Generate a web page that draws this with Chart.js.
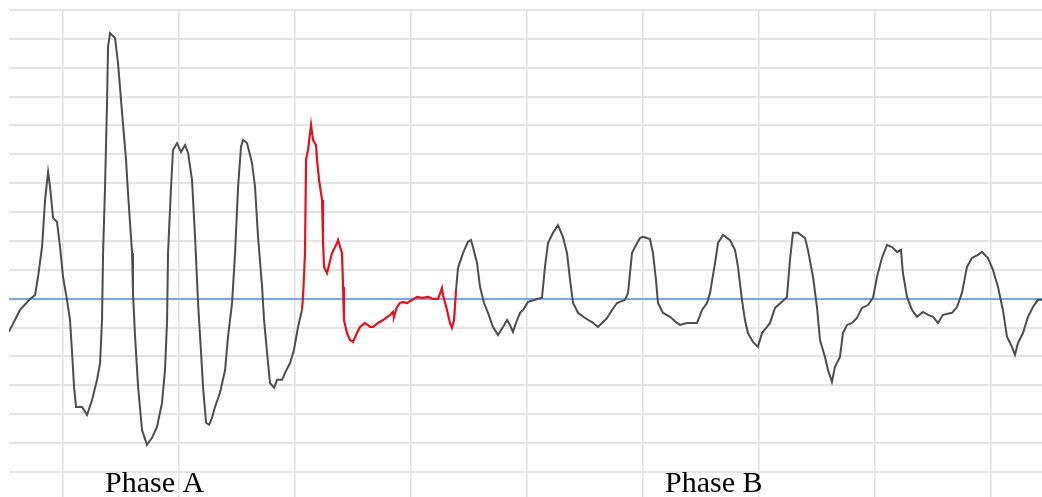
<!DOCTYPE html>
<html>
<head>
<meta charset="utf-8">
<script src="https://cdn.jsdelivr.net/npm/chart.js@4/dist/chart.umd.min.js"></script>
<style>
  html, body { margin: 0; padding: 0; background: #fff; }
  #wrap { width: 1042px; height: 497px; position: relative; }
</style>
</head>
<body>
<div id="wrap"><canvas id="wave"></canvas></div>
<script>
// ------------------------
// DATA
// ------------------------
// time axis (ms), one grid column = 10 ms
const timeMs = [
  -4.66, -3.71, -2.84, -2.41, -2.16, -1.81, -1.55, -1.29, -1.12, -0.86, -0.52, -0.26, 0, 0.34, 0.60, 0.78, 0.95, 1.12,
  1.64, 2.07, 2.50, 2.93, 3.19, 3.36, 3.45, 3.62, 3.79, 3.88, 4.05, 4.48, 4.74, 5.09, 5.43, 5.60, 5.95, 6.03,
  6.21, 6.47, 6.81, 7.24, 7.67, 8.10, 8.53, 8.79, 8.97, 9.05, 9.31, 9.48, 9.83,
  10.17, 10.52, 10.78, 11.12, 11.38, 11.64, 11.90, 12.07, 12.33, 12.59, 12.84, 13.10, 13.53, 13.97, 14.22, 14.57,
  14.83, 15.09, 15.34, 15.52, 15.86, 16.29, 16.55, 16.81, 17.16, 17.33, 17.59, 17.84, 18.19, 18.45, 18.88, 19.14,
  19.57, 19.91, 20.26, 20.60, 20.69, 20.86, 20.95, 21.12, 21.38, 21.55, 21.81, 21.90, 22.07, 22.33, 22.41, 22.50,
  22.76, 23.19, 23.62, 23.71, 24.05, 24.14, 24.22, 24.48, 24.74,
  25.00, 25.34, 25.60, 26.03, 26.47, 26.72, 27.16, 27.59, 28.19, 28.45, 28.53, 28.79, 29.05, 29.31, 29.66, 30.09,
  30.52, 30.95, 31.47, 31.90, 32.33, 32.67, 32.76, 33.10, 33.36, 33.53, 33.71, 33.88, 34.05, 34.48, 34.91, 35.17,
  35.34, 35.69, 35.95, 36.29, 36.64, 37.07, 37.50, 37.93, 38.28, 38.53, 38.79, 39.14, 39.40,
  39.66, 40.09, 40.69, 41.29, 41.55, 41.81, 42.24, 42.67, 43.10, 43.45, 43.71, 43.97, 44.40, 45.00, 45.60, 46.12,
  46.47, 46.90, 47.33, 47.76, 48.45, 48.71, 49.05, 49.31, 49.74, 50.00, 50.60, 50.86, 51.12, 51.29, 51.72, 52.33,
  52.93, 53.19, 53.79, 54.66, 55.09, 55.52, 55.78, 56.21, 56.47, 56.90, 57.50, 57.93, 58.19, 58.53, 58.79, 59.05,
  59.48, 59.91, 60.26, 60.69,
  60.95, 61.38, 61.98, 62.41, 62.67, 62.93, 63.36, 63.97, 64.22, 64.66, 65.00, 65.26, 65.69, 65.95, 66.29, 66.55,
  66.98, 67.24, 67.59, 68.02, 68.45, 68.88, 69.40, 69.83, 70.17, 70.60, 71.03, 71.47, 71.90, 72.24, 72.41, 72.76,
  73.19, 73.62, 74.14, 74.57, 75.00, 75.43, 75.86, 76.64, 77.07, 77.50, 77.93, 78.36, 78.88, 79.22, 79.74, 80.17,
  80.60, 81.03, 81.38, 81.81, 82.07, 82.33, 82.76, 83.19, 83.62, 84.05, 84.40
];

// signal amplitude, one grid row = 10 units, 0 = reference level
const signal = [
  -11.4, -3.9, -0.1, 1.3, 7.5, 17.9, 34.2, 43.9, 38.7, 28.0, 26.6, 17.9, 7.5, -0.4, -7.4, -18.8, -30.6, -37.5,
  -37.5, -40.3, -35.1, -28.1, -22.3, -7.4, 15.8, 38.7, 67.8, 87.2, 92.0, 90.3, 81.6, 64.3, 48.1, 36.6, 15.8, 2.0,
  -13.2, -30.6, -45.5, -50.6, -48.2, -44.4, -36.1, -24.7, -7.4, 15.8, 38.7, 51.5, 53.9,
  50.8, 53.2, 50.5, 41.1, 21.4, -1.5, -18.8, -30.6, -43.0, -43.7, -41.3, -37.5, -32.6, -24.7, -13.2, -1.5,
  15.8, 38.7, 52.6, 55.0, 53.9, 47.0, 38.7, 21.4, 4.1, -7.4, -18.8, -29.2, -30.9, -28.1, -28.1, -25.7,
  -22.3, -17.7, -9.8, -3.9, 0.6, 15.8, 48.1, 51.5, 60.2, 55.0, 53.2, 48.1, 41.1, 34.2, 20.3, 11.0,
  8.9, 15.8, 19.3, 20.3, 15.8, 4.1, -7.4, -11.9, -14.3,
  -15.0, -11.9, -9.8, -8.4, -9.8, -9.8, -8.4, -7.4, -5.6, -4.6, -6.3, -2.9, -1.5, -1.1, -1.5, -0.4,
  0.6, 0.3, 0.6, -0.1, -0.1, 3.7, 1.3, -3.9, -8.4, -10.1, -7.4, 3.0, 10.6, 15.8, 19.7, 20.3,
  17.9, 12.4, 4.1, -1.5, -4.9, -9.8, -12.6, -9.8, -7.4, -9.1, -11.5, -7.4, -4.9,
  -3.9, -1.1, -0.4, 0.3, 11.0, 19.3, 22.8, 25.5, 21.4, 15.8, 6.5, -1.5, -4.9, -6.7, -8.1, -9.8,
  -8.4, -6.7, -3.9, -1.5, -0.4, 2.0, 15.8, 17.9, 21.0, 21.4, 20.7, 15.8, 6.5, -1.5, -4.9, -6.3,
  -8.4, -9.1, -8.4, -8.4, -3.9, -1.5, 2.0, 12.4, 19.3, 22.1, 20.3, 16.9, 11.0, -0.4, -7.4, -11.9,
  -15.0, -16.7, -11.9, -9.8,
  -8.4, -3.2, -1.1, 0.6, 13.4, 22.8, 22.8, 21.0, 16.9, 7.5, -2.9, -14.3, -20.2, -24.7, -28.8, -23.6,
  -20.2, -11.9, -9.1, -8.4, -6.7, -3.2, -2.2, 0.3, 7.5, 14.1, 18.6, 17.9, 16.2, 16.9, 8.9, 0.6,
  -3.9, -6.3, -4.6, -5.6, -6.3, -8.4, -5.6, -4.9, -2.9, 2.0, 11.0, 14.1, 15.2, 16.2, 14.1, 10.0,
  4.1, -3.9, -13.2, -16.7, -19.5, -15.3, -11.9, -6.3, -2.9, -0.4, -0.4
];

// highlighted (fault) window, ms
const faultStart = 20.6;
const faultEnd = 33.9;

// phase captions and the time they sit under
const phaseLabels = ["Phase A", "Phase B"];
const phaseTimes = [7.9, 56.1];

// grid ticks
const xGrid = [0, 10, 20, 30, 40, 50, 60, 70, 80];
const yGrid = [-60, -50, -40, -30, -20, -10, 0, 10, 20, 30, 40, 50, 60, 70, 80, 90, 100];

// ------------------------
// CHART
// ------------------------
const points = timeMs.map((t, i) => ({ x: t, y: signal[i] }));
const inFault = ctx => ctx.p0.parsed.x >= faultStart && ctx.p1.parsed.x <= faultEnd;

const phaseText = {
  id: "phaseText",
  afterDraw(chart){
    const { ctx, chartArea, scales } = chart;
    ctx.save();
    ctx.font = "30px 'Liberation Serif', 'Times New Roman', serif";
    ctx.fillStyle = "#000";
    ctx.textAlign = "center";
    ctx.textBaseline = "alphabetic";
    phaseLabels.forEach((lbl, i) => {
      ctx.fillText(lbl, scales.x.getPixelForValue(phaseTimes[i]), chartArea.bottom - 5);
    });
    ctx.restore();
  }
};

new Chart(document.getElementById("wave"), {
  type: "line",
  data: {
    datasets: [{
      data: points,
      borderColor: "#4d4d4d",
      borderWidth: 2,
      pointRadius: 0,
      tension: 0,
      segment: {
        borderColor: ctx => inFault(ctx) ? "#e8101a" : undefined,
        borderWidth: ctx => inFault(ctx) ? 2.2 : undefined
      }
    }]
  },
  options: {
    responsive: true,
    maintainAspectRatio: false,
    animation: false,
    layout: { padding: { left: 9, top: 10, right: 0, bottom: 0 } },
    plugins: { legend: { display: false }, tooltip: { enabled: false } },
    scales: {
      x: {
        type: "linear",
        min: -4.66,
        max: 84.4,
        afterBuildTicks: s => { s.ticks = xGrid.map(v => ({ value: v })); },
        ticks: { display: false },
        border: { display: false },
        grid: { color: "#e0e0e0", lineWidth: 1.5, drawTicks: false }
      },
      y: {
        min: -68.7,
        max: 100,
        afterBuildTicks: s => { s.ticks = yGrid.map(v => ({ value: v })); },
        ticks: { display: false },
        border: { display: false },
        grid: {
          color: ctx => ctx.tick && ctx.tick.value === 0 ? "#7aa6f0" : "#e4e4e4",
          lineWidth: 2,
          drawTicks: false
        }
      }
    }
  },
  plugins: [phaseText]
});
</script>
</body>
</html>
